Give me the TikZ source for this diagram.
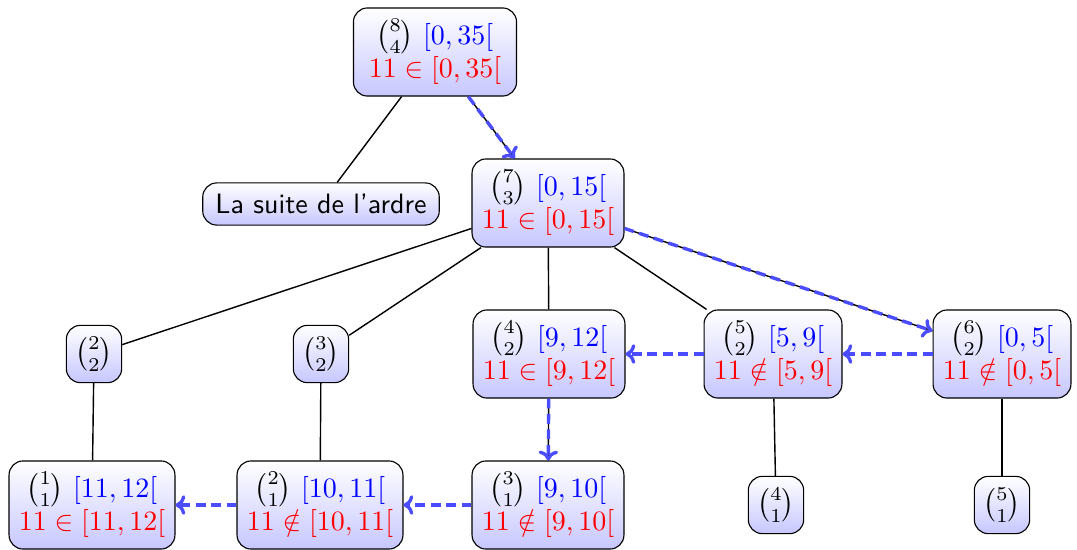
\documentclass[tikz,border=0pt]{standalone}
\usepackage{amsmath}
\usetikzlibrary{arrows.meta}
\begin{document}
\begin{tikzpicture}[x=0.357pt,y=-0.357pt,
  box/.style={draw, rounded corners=5pt, top color=white, bottom color=blue!22, align=center, inner xsep=3.5pt, inner ysep=4pt},
  small/.style={box, inner xsep=3.3pt},
  tree/.style={draw=black, line width=0.5pt},
  walk/.style={draw=blue!70, line width=1.2pt, dash pattern=on 3.5pt off 2pt, -{To[length=3.5pt,width=7pt]}}]
\useasboundingbox (0,0) rectangle (1077,549);
\newcommand{\nd}[4]{$\binom{#1}{#2}$ \textcolor{blue}{$[#3,#4[$}}
\node[box, inner xsep=5.5pt] (r) at (435,52) {\nd{8}{4}{0}{35}\\ \textcolor{red}{$11\in[0,35[$}};
\node[box, inner xsep=4.5pt] (s) at (321,204) {\textsf{La suite de l'ardre}};
\node[box] (a) at (548,203) {\nd{7}{3}{0}{15}\\ \textcolor{red}{$11\in[0,15[$}};
\node[small] (b1) at (94,354) {$\binom{2}{2}$};
\node[small] (b2) at (321,354) {$\binom{3}{2}$};
\node[box] (b3) at (549,354) {\nd{4}{2}{9}{12}\\ \textcolor{red}{$11\in[9,12[$}};
\node[box] (b4) at (773,354) {\nd{5}{2}{5}{9}\\ \textcolor{red}{$11\notin[5,9[$}};
\node[box] (b5) at (1002,354) {\nd{6}{2}{0}{5}\\ \textcolor{red}{$11\notin[0,5[$}};
\node[box] (c1) at (92,505) {\nd{1}{1}{11}{12}\\ \textcolor{red}{$11\in[11,12[$}};
\node[box] (c2) at (320,505) {\nd{2}{1}{10}{11}\\ \textcolor{red}{$11\notin[10,11[$}};
\node[box] (c3) at (548,505) {\nd{3}{1}{9}{10}\\ \textcolor{red}{$11\notin[9,10[$}};
\node[small] (c4) at (776,505) {$\binom{4}{1}$};
\node[small] (c5) at (1002,505) {$\binom{5}{1}$};
\draw[tree] (r) -- (s);
\draw[tree] (r) -- (a);
\foreach \n in {b1,b2,b3,b4,b5} \draw[tree] (a) -- (\n);
\draw[tree] (b1) -- (c1);
\draw[tree] (b2) -- (c2);
\draw[tree] (b3) -- (c3);
\draw[tree] (b4) -- (c4);
\draw[tree] (b5) -- (c5);
\draw[walk] (r) -- (a);
\draw[walk] (a) -- (b5);
\draw[walk] (b5) -- (b4);
\draw[walk] (b4) -- (b3);
\draw[walk] (b3) -- (c3);
\draw[walk] (c3) -- (c2);
\draw[walk] (c2) -- (c1);
\end{tikzpicture}
\end{document}
